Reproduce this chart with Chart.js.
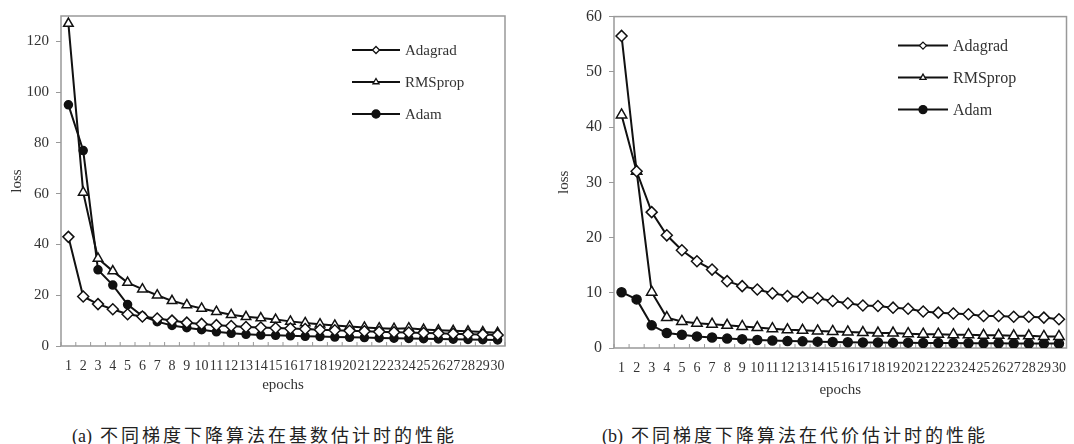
<!DOCTYPE html>
<html>
<head>
<meta charset="utf-8">
<script src="https://cdn.jsdelivr.net/npm/chart.js@4/dist/chart.umd.min.js"></script>
<style>
  body { margin: 0; background: #fff; width: 1074px; height: 444px; position: relative; overflow: hidden; }
  .box { position: absolute; top: 0; }
  .cap { position: absolute; top: 421px; font-family: "Noto Sans CJK SC", sans-serif; font-size: 18px; color: #222; white-space: nowrap; }
  .cap b { font-weight: normal; font-family: "Liberation Serif", serif; font-size: 18px; margin-right: 8px; }
  .cap span { letter-spacing: 3px; }
</style>
</head>
<body>
<div class="box" style="left:0;width:520px;height:395px"><canvas id="lossA"></canvas></div>
<div class="box" style="left:540px;width:534px;height:400px"><canvas id="lossB"></canvas></div>
<div class="cap" style="left:72px"><b>(a)</b><span>不同梯度下降算法在基数估计时的性能</span></div>
<div class="cap" style="left:602px"><b>(b)</b><span>不同梯度下降算法在代价估计时的性能</span></div>
<script>
// epochs 1..30
var epochs = ['1','2','3','4','5','6','7','8','9','10','11','12','13','14','15',
  '16','17','18','19','20','21','22','23','24','25','26','27','28','29','30']

// (a) cardinality estimation
var adagradA = [43, 19.5, 16.5, 14.5, 12.5, 11.6, 10.8, 10, 9.2, 8.7, 8.2, 7.9, 7.5, 7.3, 7.1,
  6.9, 6.7, 6.4, 6.2, 6.0, 5.8, 5.6, 5.4, 5.3, 5.1, 5.0, 4.8, 4.6, 4.5, 4.3]
var rmspropA = [127, 60.5, 34.5, 29.5, 25, 22.4, 20, 17.8, 16.2, 14.8, 13.5, 12.3, 11.5, 11, 10.4,
  9.7, 9.1, 8.6, 8.1, 7.7, 7.3, 7.0, 6.8, 7.0, 6.5, 6.2, 6.0, 5.8, 5.5, 5.2]
var adamA = [95, 77, 30, 24, 16.3, 11.8, 9.6, 8.1, 7.2, 6.4, 5.6, 5.0, 4.6, 4.3, 4.2,
  4.0, 3.8, 3.7, 3.5, 3.4, 3.3, 3.2, 3.1, 3.0, 2.9, 2.8, 2.7, 2.6, 2.5, 2.4]

// (b) cost estimation
var adagradB = [56.5, 32, 24.6, 20.4, 17.7, 15.7, 14.2, 12.1, 11.2, 10.6, 9.9, 9.4, 9.2, 9.0, 8.5,
  8.1, 7.7, 7.6, 7.3, 7.1, 6.6, 6.4, 6.25, 6.1, 5.8, 5.8, 5.65, 5.65, 5.5, 5.2]
var rmspropB = [42.2, 32, 10.1, 5.5, 4.8, 4.5, 4.3, 4.1, 3.9, 3.7, 3.5, 3.3, 3.2, 3.1, 3.0,
  2.9, 2.8, 2.7, 2.7, 2.6, 2.5, 2.5, 2.4, 2.4, 2.3, 2.3, 2.2, 2.2, 2.1, 2.1]
var adamB = [10.1, 8.8, 4.1, 2.7, 2.4, 2.1, 1.9, 1.7, 1.6, 1.45, 1.35, 1.25, 1.2, 1.15, 1.1,
  1.05, 1.0, 1.0, 0.95, 0.95, 0.9, 0.9, 0.9, 0.85, 0.85, 0.85, 0.8, 0.8, 0.8, 0.8]

var serif = '"Liberation Serif", "Times New Roman", serif'
var grey = '#999'

// grey frame round the plot + little inward ticks on the x axis
var framePlugin = {
  id: 'frame',
  beforeDatasetsDraw(chart) {
    var a = chart.chartArea, ctx = chart.ctx, xs = chart.scales.x
    ctx.save()
    ctx.strokeStyle = grey
    ctx.lineWidth = 1.5
    ctx.strokeRect(a.left, a.top, a.right - a.left, a.bottom - a.top)
    var step = xs.getPixelForValue(1) - xs.getPixelForValue(0)
    ctx.lineWidth = 1
    for (var i = 0; i <= epochs.length; i++) {
      var x = xs.getPixelForValue(i) - step / 2
      ctx.beginPath()
      ctx.moveTo(x, a.bottom)
      ctx.lineTo(x, a.bottom - 4)
      ctx.stroke()
    }
    ctx.restore()
  }
}

function marker(ctx, style, x, y, r) {
  ctx.beginPath()
  if (style == 'rectRot') {
    ctx.moveTo(x, y - r); ctx.lineTo(x + r, y); ctx.lineTo(x, y + r); ctx.lineTo(x - r, y)
    ctx.closePath()
  } else if (style == 'triangle') {
    ctx.moveTo(x, y - r); ctx.lineTo(x + r * 0.87, y + r * 0.5); ctx.lineTo(x - r * 0.87, y + r * 0.5)
    ctx.closePath()
  } else {
    ctx.arc(x, y, r, 0, Math.PI * 2)
  }
  ctx.fill()
  ctx.stroke()
}

// legend: line with a small marker in the middle, text to the right
var legendPlugin = {
  id: 'lineLegend',
  afterDraw(chart, args, opts) {
    var a = chart.chartArea, ctx = chart.ctx
    ctx.save()
    ctx.font = opts.size + 'px ' + serif
    ctx.textBaseline = 'middle'
    chart.data.datasets.forEach(function (ds, i) {
      var x0 = a.left + opts.x, y = a.top + opts.y + i * opts.gap
      ctx.strokeStyle = '#111'
      ctx.lineWidth = 2
      ctx.beginPath()
      ctx.moveTo(x0, y)
      ctx.lineTo(x0 + opts.len, y)
      ctx.stroke()
      ctx.lineWidth = 1.3
      ctx.fillStyle = ds.pointBackgroundColor
      marker(ctx, ds.pointStyle, x0 + opts.len / 2, y, ds.pointStyle == 'circle' ? 4 : 3.5)
      ctx.fillStyle = '#333'
      ctx.fillText(ds.label, x0 + opts.len + 5, y + 1)
    })
    ctx.restore()
  }
}

function makeChart(id, series, cfg) {
  var styles = [
    { label: 'Adagrad', pointStyle: 'rectRot', pointBackgroundColor: '#fff', pointRadius: cfg.dia },
    { label: 'RMSprop', pointStyle: 'triangle', pointBackgroundColor: '#fff', pointRadius: cfg.tri },
    { label: 'Adam', pointStyle: 'circle', pointBackgroundColor: '#111', pointRadius: cfg.dot }
  ]
  var datasets = styles.map(function (s, i) {
    return Object.assign({
      data: series[i],
      borderColor: '#111',
      borderWidth: 2,
      pointBorderColor: '#111',
      pointBorderWidth: 1.5,
      tension: 0
    }, s)
  })

  return new Chart(document.getElementById(id), {
    type: 'line',
    data: { labels: epochs, datasets: datasets },
    options: {
      responsive: true,
      maintainAspectRatio: false,
      animation: false,
      layout: { padding: { left: 0, right: cfg.padRight, top: cfg.padTop, bottom: 0 } },
      plugins: {
        legend: { display: false },
        tooltip: { enabled: false },
        lineLegend: cfg.legend
      },
      scales: {
        x: {
          offset: true,
          grid: { display: false },
          border: { display: false },
          ticks: { autoSkip: false, maxRotation: 0, padding: 4, color: '#333', font: { family: serif, size: 14 } },
          title: { display: true, text: 'epochs', color: '#333', font: { family: serif, size: 15 }, padding: { top: 2, bottom: 1 } },
          afterFit: function (s) { s.height = cfg.xHeight }
        },
        y: {
          min: 0,
          max: cfg.max,
          ticks: { stepSize: cfg.step, padding: 7, color: '#333', font: { family: serif, size: cfg.ySize } },
          grid: { drawOnChartArea: false, tickLength: 5, color: grey },
          border: { display: false },
          title: { display: true, text: 'loss', color: '#333', font: { family: serif, size: 15 }, padding: { top: cfg.lossPad, bottom: 4 } },
          afterBuildTicks: function (s) { s.ticks = s.ticks.filter(function (t) { return t.value % cfg.step === 0 }) },
          afterFit: function (s) { s.width = cfg.yWidth }
        }
      }
    },
    plugins: [framePlugin, legendPlugin]
  })
}

makeChart('lossA', [adagradA, rmspropA, adamA], {
  max: 130, step: 20, ySize: 15, yWidth: 61, xHeight: 49, padTop: 13, padRight: 15, lossPad: 8,
  dia: 5.5, tri: 5.5, dot: 4,
  legend: { x: 291, y: 34, gap: 32, len: 48, size: 15 }
})

makeChart('lossB', [adagradB, rmspropB, adamB], {
  max: 60, step: 10, ySize: 16, yWidth: 74, xHeight: 52, padTop: 14, padRight: 1, lossPad: 15,
  dia: 5.5, tri: 6, dot: 4.5,
  legend: { x: 284, y: 29, gap: 32, len: 50, size: 16 }
})
</script>
</body>
</html>
